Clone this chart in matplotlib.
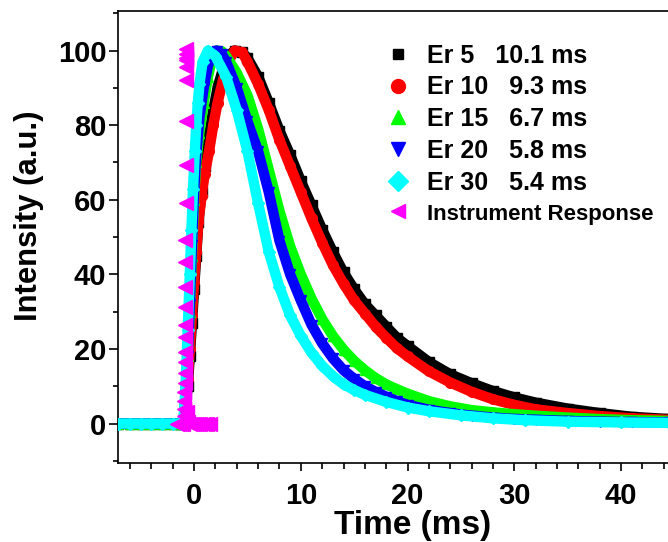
import matplotlib
matplotlib.use('Agg')
import matplotlib.pyplot as plt
from matplotlib.lines import Line2D
from matplotlib.ticker import MultipleLocator

plt.rcParams['font.family'] = ['Liberation Sans', 'DejaVu Sans']
plt.rcParams['font.weight'] = 'bold'

# time (ms) and intensity (a.u.)
t_er5 = [-7.1, -6, -5, -4, -3, -2, -1.2, -1.0, -0.8, -0.6, -0.4, -0.2, 0.0, 0.2, 0.4, 0.7,
         1.0, 1.4, 1.8, 2.2, 2.7, 3.2, 3.8, 4.5, 5, 6, 7, 8, 9, 10, 11, 12, 13, 14, 15, 16,
         17, 18, 19, 20, 22, 24, 26, 28, 30, 32, 35, 38, 41, 44.5]
i_er5 = [0, 0, 0, 0, 0, 0, 0, 0, 4, 10, 18, 27, 36, 45, 54, 62,
         69, 77, 84, 90, 95, 98.5, 100, 99.5, 98, 93, 86, 78.5, 72, 65, 58.5, 52, 46, 40.5, 36, 32,
         29, 26, 23, 20.8, 16.5, 13.2, 10.8, 8.7, 7, 5.6, 4, 2.8, 1.8, 1.2]

t_er10 = t_er5
i_er10 = [0, 0, 0, 0, 0, 0, 0, 0, 5, 12, 20, 29, 38, 46, 54, 61,
          67, 73, 80, 86, 92, 97, 100, 99.5, 97, 91, 84, 76, 69, 62, 55, 48.5, 42.5, 37.5, 33, 29.5,
          26, 23, 20.2, 18, 14, 11, 8.5, 6.5, 5, 3.8, 2.8, 2.0, 1.4, 1.0]

t_er15 = [-7.1, -6, -5, -4, -3, -2, -1.2, -1.0, -0.8, -0.6, -0.4, -0.2, 0.0, 0.2, 0.5, 0.9,
          1.3, 1.7, 2.1, 2.6, 3, 4, 5, 6, 7, 8, 9, 10, 11, 12, 13, 14, 15, 16, 17, 18, 19, 20,
          22, 24, 26, 28, 30, 32, 35, 38, 41, 44.5]
i_er15 = [0, 0, 0, 0, 0, 0, 0, 0, 8, 18, 30, 45, 60, 70, 78, 86,
          93, 98, 100, 99.8, 98.5, 94, 88, 79, 68, 57, 47.5, 40, 33.5, 28, 23.5, 19.8, 16.8, 14.3, 12.2, 10.5, 9.2, 8,
          6, 4.6, 3.6, 3, 2.5, 2.1, 1.6, 1.2, 0.9, 0.7]

t_er20 = t_er15
i_er20 = [0, 0, 0, 0, 0, 0, 0, 0, 8, 18, 32, 48, 62, 72, 82, 90,
          96, 99.5, 100, 99, 97, 90, 81, 73, 62, 49, 40, 33, 26.5, 21.5, 17.5, 14.3, 12, 10, 8.5, 7.2, 6, 5,
          3.7, 2.8, 2.1, 1.6, 1.2, 1.0, 0.7, 0.5, 0.4, 0.3]

t_er30 = [-7.1, -6, -5, -4, -3, -2, -1.2, -1.0, -0.8, -0.6, -0.4, -0.25, -0.1, 0.07, 0.2, 0.35,
          0.5, 0.8, 1.3, 2, 3, 4, 5, 6, 7, 8, 9, 10, 11, 12, 13, 14, 15, 16,
          18, 20, 22, 25, 28, 31, 35, 40, 44.5]
i_er30 = [0, 0, 0, 0, 0, 0, 0, 0.5, 10, 25, 40, 52, 63, 73, 80, 86,
          91, 97, 100, 98.5, 93, 84, 73, 59, 46, 36.5, 29, 23.5, 19, 15.5, 12.7, 10.5, 9, 7.7,
          5.8, 4.3, 3.3, 2.2, 1.4, 0.9, 0.5, 0.3, 0.2]

t_ir = [-1.6, -1.4, -1.2, -1.0, -0.95, -0.9, -0.9, -0.9, -0.85, -0.85, -0.85, -0.85, -0.85,
        -0.85, -0.85, -0.85, -0.85, -0.85, -0.8, -0.8, -0.8, -0.8, -0.8, -0.8, -0.8, -0.8,
        -0.75, -0.7, -0.6, -0.4, -0.2, 0.0, 0.2, 0.4, 0.6, 0.8, 1.0, 1.2, 1.5]
i_ir = [0, 0, 0, 0, 2, 4, 6, 8.5, 11, 13.5, 16.6, 19.2, 23.3,
        26.4, 31.3, 36.7, 43.4, 49.2, 59, 69.3, 81, 92, 95.6, 97.5, 99, 100.5,
        98, 3, 0.5, 0, 0, 0, 0, 0, 0, 0, 0, 0, 0]

labels = ['Er 5   10.1 ms', 'Er 10   9.3 ms', 'Er 15   6.7 ms',
          'Er 20   5.8 ms', 'Er 30   5.4 ms', 'Instrument Response']
colors = ['#000000', '#ff0000', '#00ff00', '#0000ff', '#00ffff', '#ff00ff']
markers = ['s', 'o', '^', 'v', 'D', '<']

fig = plt.figure(figsize=(6.68, 5.42), dpi=100)
ax = fig.add_axes([0.1771, 0.1463, 0.8274, 0.8334])

series = [(t_er5, i_er5), (t_er10, i_er10), (t_er15, i_er15),
          (t_er20, i_er20), (t_er30, i_er30)]
for k, (t, v) in enumerate(series):
    ax.plot(t, v, color=colors[k], lw=7.5, marker=markers[k],
            ms=(6 if markers[k] == 'D' else 7),
            solid_joinstyle='round', solid_capstyle='round', zorder=2 + k)
ax.plot(t_ir, i_ir, ls='none', color=colors[5], marker='<', ms=10, zorder=8)

ax.set_xlim(-7.1, 44.68)
ax.set_ylim(-10.5, 110.6)
ax.xaxis.set_major_locator(MultipleLocator(10))
ax.xaxis.set_minor_locator(MultipleLocator(2))
ax.yaxis.set_major_locator(MultipleLocator(20))
ax.yaxis.set_minor_locator(MultipleLocator(10))
ax.tick_params(which='both', direction='out', width=1.2, top=False, right=False,
               labelsize=21)
ax.tick_params(axis='y', which='major', length=6.5, pad=2)
ax.tick_params(axis='y', which='minor', length=3.5)
ax.tick_params(axis='x', which='major', length=6, pad=8)
ax.tick_params(axis='x', which='minor', length=4)
for s in ax.spines.values():
    s.set_linewidth(1.2)

ax.set_xlabel('Time (ms)', fontsize=24, fontweight='bold')
ax.set_ylabel('Intensity (a.u.)', fontsize=22.3, fontweight='bold')
ax.xaxis.set_label_coords(0.532, -0.105)
ax.yaxis.set_label_coords(-0.135, 0.546)

handles = [Line2D([], [], ls='none', marker=markers[k], color=colors[k],
                  ms=(7 if k == 0 else 10)) for k in range(6)]
leg = ax.legend(handles, labels, loc='upper left', bbox_to_anchor=(0.465, 0.95),
                frameon=False, fontsize=18, handlelength=1.0, handletextpad=0.65,
                labelspacing=0.31, borderaxespad=0)
for txt in leg.get_texts():
    txt.set_fontweight('bold')
leg.get_texts()[5].set_fontsize(16)

fig.savefig('out.png', dpi=100)
